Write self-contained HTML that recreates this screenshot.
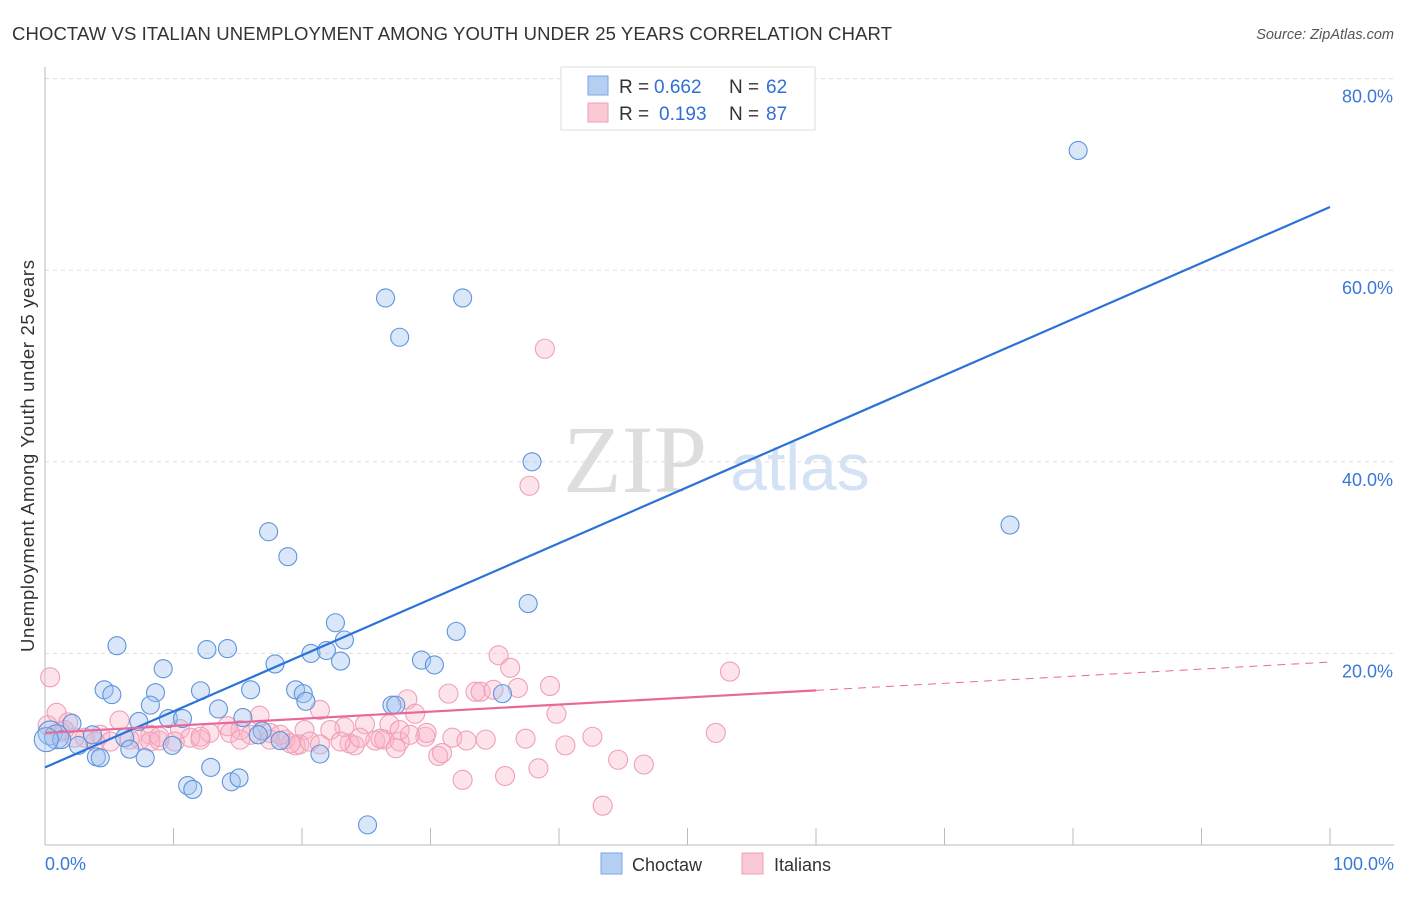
<!DOCTYPE html>
<html><head><meta charset="utf-8"><style>
body{margin:0;background:#fff;font-family:"Liberation Sans",sans-serif}
</style></head><body>
<svg id="chart" width="1406" height="892" xmlns="http://www.w3.org/2000/svg" font-family="Liberation Sans, sans-serif">
<text x="12" y="40" font-size="18.5" fill="#333" textLength="880">CHOCTAW VS ITALIAN UNEMPLOYMENT AMONG YOUTH UNDER 25 YEARS CORRELATION CHART</text>
<text x="1394" y="39" font-size="14.5" fill="#555" font-style="italic" text-anchor="end">Source: ZipAtlas.com</text>
<text x="635" y="492" font-size="96" fill="#ddd" font-family="Liberation Serif, serif" text-anchor="middle">ZIP</text>
<text x="800" y="490" font-size="66" fill="#d3e2f4" text-anchor="middle">atlas</text>
<g id="grid"></g><g id="axes"></g><g id="pink"></g><g id="blue"></g><g id="trends"></g>
<text transform="translate(34,456) rotate(-90)" font-size="18.5" fill="#333" text-anchor="middle" textLength="392">Unemployment Among Youth under 25 years</text>
<g>
<rect x="561" y="67" width="254" height="63" fill="#fff" stroke="#ddd"/>
<rect x="588" y="76" width="20" height="19" fill="#b5cff3" stroke="#7aa6e4"/>
<rect x="588" y="103" width="20" height="19" fill="#f9c9d6" stroke="#ef9fb7"/>
<text x="619" y="93" font-size="19" fill="#333">R =</text><text x="654" y="93" font-size="19" fill="#2f6fd6">0.662</text>
<text x="729" y="93" font-size="19" fill="#333">N =</text><text x="766" y="93" font-size="19" fill="#2f6fd6">62</text>
<text x="619" y="120" font-size="19" fill="#333">R =</text><text x="659" y="120" font-size="19" fill="#2f6fd6">0.193</text>
<text x="729" y="120" font-size="19" fill="#333">N =</text><text x="766" y="120" font-size="19" fill="#2f6fd6">87</text>
</g>
<g>
<rect x="601" y="853" width="21" height="21" fill="#b5cff3" stroke="#7aa6e4"/>
<text x="632" y="871" font-size="18" fill="#333">Choctaw</text>
<rect x="742" y="853" width="21" height="21" fill="#f9c9d6" stroke="#ef9fb7"/>
<text x="774" y="871" font-size="18" fill="#333">Italians</text>
</g>
</svg>
<script>
const yTicks=[20,40,60,80];
const xTickLabels=["0.0%","100.0%"];
const blueX=[80.4,26.5,32.5,27.6,37.9,75.1,17.4,18.9,37.6,22.6,32.0,23.3,5.6,12.6,14.2,20.7,21.9,23.0,29.3,30.3,17.9,9.2,4.6,5.2,8.6,12.1,16.0,19.5,20.1,20.3,8.2,27.0,27.3,13.5,15.4,7.3,9.6,10.7,0.4,0.9,2.1,1.3,2.6,3.7,6.2,6.6,7.8,9.9,16.9,16.6,18.3,21.4,4.0,4.3,11.1,11.5,12.9,14.5,15.1,25.1,35.6,0.1];
const blueY=[72.5,57.1,57.1,53.0,40.0,33.4,32.7,30.1,25.2,23.2,22.3,21.4,20.8,20.4,20.5,20.0,20.3,19.2,19.3,18.8,18.9,18.4,16.2,15.7,15.9,16.1,16.2,16.2,15.8,15.0,14.6,14.6,14.6,14.2,13.3,12.9,13.2,13.2,11.7,11.3,12.7,11.0,10.4,11.5,11.2,10.0,9.1,10.4,11.9,11.5,10.9,9.5,9.2,9.1,6.2,5.8,8.1,6.6,7.0,2.1,15.8,11.0];
const pinkX=[38.9,37.7,53.3,35.3,36.2,0.4,39.3,36.8,33.5,33.9,34.9,28.2,31.4,28.8,39.8,21.4,0.9,16.7,5.8,1.8,26.8,23.3,24.9,22.2,20.2,14.2,12.8,10.5,8.2,4.3,3.1,5.1,7.4,8.9,11.3,12.1,15.2,16.0,17.5,18.7,19.5,19.8,23.7,24.1,23.0,25.7,26.4,26.1,27.6,29.6,29.7,31.7,32.8,34.3,37.4,40.5,42.6,52.2,30.6,30.9,32.5,35.8,38.4,44.6,46.6,43.4,27.3,20.6,19.1,17.5,14.4,10.1,6.6,1.2,2.3,3.9,8.2,12.1,21.4,27.6,28.4,24.5,18.3,15.2,8.9,0.2,1.5];
const pinkY=[51.8,37.5,18.1,19.8,18.5,17.5,16.6,16.4,16.0,16.0,16.2,15.2,15.8,13.7,13.7,14.1,13.8,13.5,13.0,12.8,12.6,12.3,12.6,12.0,12.0,12.4,11.7,12.1,11.5,11.5,11.2,10.8,11.0,10.9,11.2,11.0,12.0,11.5,11.7,11.0,10.4,10.5,10.6,10.4,10.8,10.9,11.0,11.1,10.8,11.3,11.7,11.2,10.9,11.0,11.1,10.4,11.3,11.7,9.3,9.6,6.8,7.2,8.0,8.9,8.4,4.1,10.1,10.8,10.6,11.0,11.7,10.8,11.0,11.8,11.2,10.8,10.8,11.3,10.5,12.0,11.5,11.2,11.5,11.0,11.3,12.5,12.0];
const blueTrend=[8.1,66.6];
const pinkTrend=[11.7,19.1];
const pinkSolidEnd=60;
const NS="http://www.w3.org/2000/svg";
const X0=45,X1=1330,Y0=845,YPX=9.58;
const xs=v=>X0+(X1-X0)*v/100;
const ys=v=>Y0-v*YPX;
function mk(tag,attrs,parent){const e=document.createElementNS(NS,tag);for(const k in attrs)e.setAttribute(k,attrs[k]);document.getElementById(parent).appendChild(e);return e;}
yTicks.forEach(t=>{
 const l=mk('line',{x1:45,x2:1394,y1:ys(t),y2:ys(t),stroke:'#ddd','stroke-dasharray':'4,4'},'grid');
 
 
 const tx=mk('text',{x:1393,y:ys(t)+24,'font-size':18,fill:'#3a78d6','text-anchor':'end'},'grid');
 tx.textContent=t.toFixed(1)+'%';
 
 
});
const ax=mk('line',{x1:45,x2:45,y1:67,y2:845,stroke:'#bbb'},'axes');


const bx=mk('line',{x1:45,x2:1394,y1:845,y2:845,stroke:'#bbb'},'axes');


for(let i=1;i<=10;i++){
 const t=mk('line',{x1:xs(i*10),x2:xs(i*10),y1:828,y2:845,stroke:'#bbb'},'axes');
 
 
}
[[0,'start',45],[100,'end',1394]].forEach((d,i)=>{
 const t=mk('text',{x:d[2],y:870,'font-size':18,fill:'#3a78d6','text-anchor':d[1]},'axes');
 t.textContent=xTickLabels[i];
 
 
});
pinkX.forEach((v,i)=>{
 const c=mk('circle',{cx:xs(v),cy:ys(pinkY[i]),r:9.5,fill:'rgba(248,178,198,0.35)',stroke:'#efa0b8','stroke-width':1.1},'pink');
 
 
});
blueX.forEach((v,i)=>{
 const c=mk('circle',{cx:xs(v),cy:ys(blueY[i]),r:v<1?12:9,fill:'rgba(160,194,240,0.4)',stroke:'#5f93dd','stroke-width':1.1},'blue');
 
 
});
const bl=mk('line',{x1:xs(0),y1:ys(blueTrend[0]),x2:xs(100),y2:ys(blueTrend[1]),stroke:'#2a72d8','stroke-width':2.2},'trends');


const pm=pinkTrend[0]+(pinkTrend[1]-pinkTrend[0])*pinkSolidEnd/100;
const pl=mk('line',{x1:xs(0),y1:ys(pinkTrend[0]),x2:xs(pinkSolidEnd),y2:ys(pm),stroke:'#e8689a','stroke-width':2.2},'trends');


const pd=mk('line',{x1:xs(pinkSolidEnd),y1:ys(pm),x2:xs(100),y2:ys(pinkTrend[1]),stroke:'#e8689a','stroke-width':1,'stroke-dasharray':'8,6'},'trends');


</script>
</body></html>
